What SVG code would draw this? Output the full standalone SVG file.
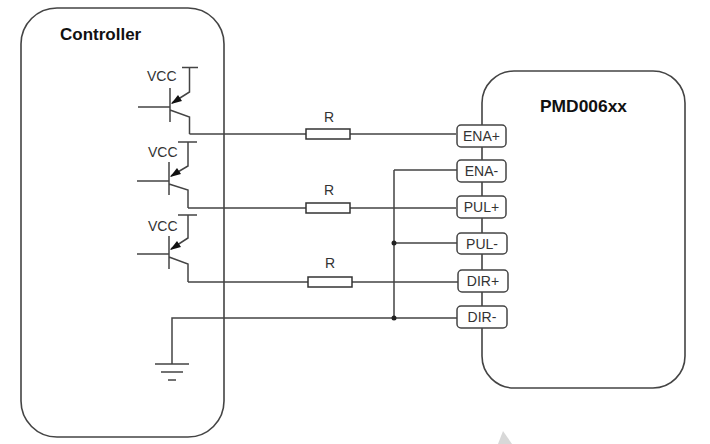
<svg xmlns="http://www.w3.org/2000/svg" width="710" height="444" viewBox="0 0 710 444">
<style>
.box{fill:#fff;stroke:#444;stroke-width:1.6}
.w{fill:none;stroke:#444;stroke-width:1.5}
.pin{fill:#fff;stroke:#444;stroke-width:1.5}
.res{fill:#fff;stroke:#333;stroke-width:1.5}
text{font-family:"Liberation Sans",Arial,sans-serif;fill:#333;font-size:14px}
.t{font-weight:bold;font-size:17px;fill:#111}
.m{text-anchor:middle}
</style>
<rect width="710" height="444" fill="#fff"/>
<polygon points="498,444 503,431 512,444" fill="#d8d8d8"/>
<g id="controller"><rect class="box" x="21" y="8" width="203" height="429" rx="36"/><text class="t" x="60" y="40">Controller</text></g>
<g id="driver"><rect class="box" x="482" y="71" width="203" height="317" rx="32"/><text class="t" x="540" y="112" textLength="87" lengthAdjust="spacingAndGlyphs">PMD006xx</text></g>
<g id="connectors">
<path class="w" d="M189.500 134H456M188 208H456M188 282H458M394 170H457M394 243H457M172 364V318H457M394 170V318"/>
<circle cx="394" cy="243" r="2.500" fill="#222"/><circle cx="394" cy="318" r="2.500" fill="#222"/>
</g>
<g id="transistor1">
<path class="w" d="M138 107H170M170 88V122M170 110L189.500 117V134M189.500 68V92L172 103M182 67.500H198"/>
<polygon points="171,104 178,95 182,101" fill="#111"/>
<text x="147" y="81">VCC</text>
</g>
<g id="transistor2">
<path class="w" d="M137 181H169M169 162V195M169 184L188 190V208M188 142V166L171 176M178 142H197"/>
<polygon points="170,177 177,168 181,174" fill="#111"/>
<text x="148" y="157">VCC</text>
</g>
<g id="transistor3">
<path class="w" d="M137 254H169M169 236V269M169 257L188 264V282M188 215V238L171 249M178 215H197"/>
<polygon points="170,250 177,241 181,247" fill="#111"/>
<text x="148" y="231">VCC</text>
</g>
<g id="r1"><rect class="res" x="306" y="129" width="44" height="10"/><text class="m" x="329" y="122">R</text></g>
<g id="r2"><rect class="res" x="306" y="203" width="44" height="10"/><text class="m" x="329" y="195">R</text></g>
<g id="r3"><rect class="res" x="308" y="277" width="44" height="10"/><text class="m" x="330" y="268">R</text></g>
<g id="gnd"><path class="w" d="M155 364H189M161 372H183M168 380H176"/></g>
<g id="pin-ena-p"><rect class="pin" x="457" y="125" width="49" height="22" rx="4"/><text class="m" x="481.500" y="141">ENA+</text></g>
<g id="pin-ena-n"><rect class="pin" x="457" y="160" width="49" height="22" rx="4"/><text class="m" x="481.500" y="176">ENA-</text></g>
<g id="pin-pul-p"><rect class="pin" x="457" y="196" width="49" height="22" rx="4"/><text class="m" x="481.500" y="212">PUL+</text></g>
<g id="pin-pul-n"><rect class="pin" x="457" y="233" width="50" height="21" rx="4"/><text class="m" x="482" y="249">PUL-</text></g>
<g id="pin-dir-p"><rect class="pin" x="458" y="270" width="50" height="22" rx="4"/><text class="m" x="483" y="286">DIR+</text></g>
<g id="pin-dir-n"><rect class="pin" x="457" y="306" width="50" height="22" rx="4"/><text class="m" x="482" y="322">DIR-</text></g>
</svg>
